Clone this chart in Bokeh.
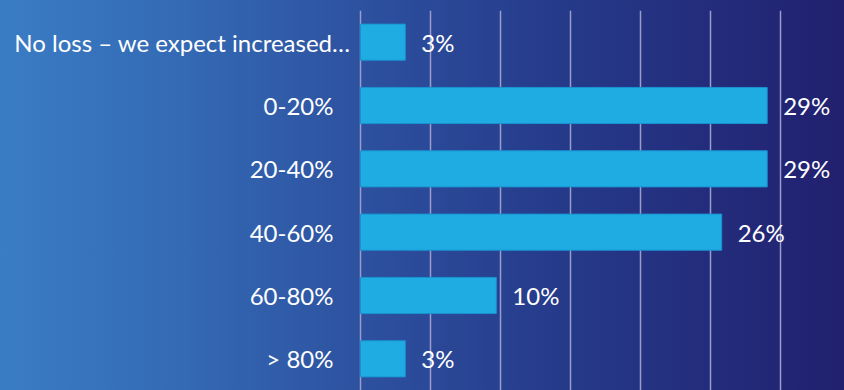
from bokeh.plotting import figure
from bokeh.models import ColumnDataSource, FactorRange, Range1d, FixedTicker
from bokeh.core.properties import value
from bokeh.embed import file_html
from bokeh.resources import INLINE

categories = ["No loss – we expect increased…", "0-20%", "20-40%", "40-60%", "60-80%", "> 80%"]
values = [3.2, 29.05, 29.05, 25.8, 9.7, 3.2]
value_labels = ["3%", "29%", "29%", "26%", "10%", "3%"]
grid_ticks = [0, 5, 10, 15, 20, 25, 30]

W, H = 844, 390
px_per_unit = 14.0
left_px = 360
# truncated (ellipsis) label sits closer to the axis, as in the source slide
cat_offsets = [-10 if c.endswith("…") else -27 for c in categories]
src = ColumnDataSource(dict(cat=categories, val=values, lab=value_labels,
                            zero=[0] * len(categories), off=cat_offsets))

p = figure(width=W, height=H, output_backend="svg", toolbar_location=None,
           y_range=FactorRange(*reversed(categories)),
           x_range=Range1d(-left_px / px_per_unit, (W - left_px) / px_per_unit),
           x_axis_location=None, y_axis_location=None,
           min_border_left=0, min_border_right=0, min_border_top=10, min_border_bottom=0)
p.background_fill_color = None
p.border_fill_color = None
p.outline_line_color = None
p.styles = {"background": "linear-gradient(to right, #3a7dc5 0%, #3469b4 22%, #2d52a0 42%, #263b8b 65%, #21206f 100%)"}

p.ygrid.grid_line_color = None
p.xgrid.ticker = FixedTicker(ticks=grid_ticks)
p.xgrid.grid_line_color = "#9a9cc9"
p.xgrid.grid_line_width = 1.5

p.hbar(y="cat", right="val", left=0, height=0.57, source=src,
       fill_color="#1eace3", line_color="#1a92d0", line_width=1)

font = value("Lato")
p.text(x="zero", y="cat", text="cat", source=src, x_offset="off",
       text_align="right", text_baseline="middle", text_color="white",
       text_font=font, text_font_size="24px")
p.text(x="val", y="cat", text="lab", source=src, x_offset=16,
       text_align="left", text_baseline="middle", text_color="white",
       text_font=font, text_font_size="24px")

open("out.html", "w").write(file_html(p, INLINE))
